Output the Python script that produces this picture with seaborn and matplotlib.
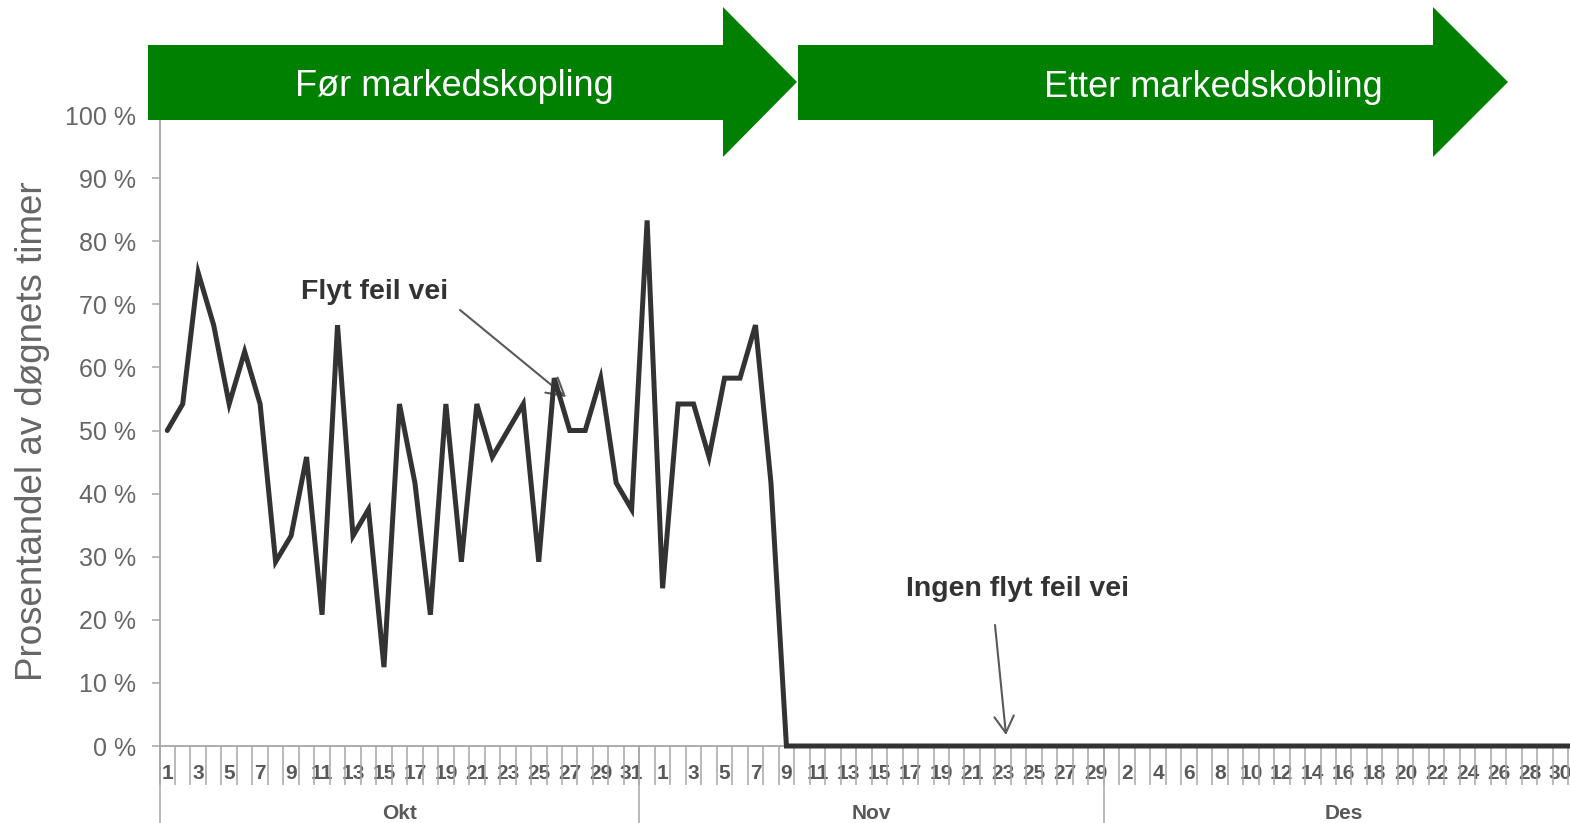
import matplotlib
matplotlib.use("Agg")
import matplotlib.pyplot as plt
from matplotlib.patches import Polygon
from matplotlib.ticker import FixedLocator, FuncFormatter
import matplotlib.transforms as mtransforms
import seaborn as sns
import pandas as pd

# ---------------- data ----------------
months = ["Okt", "Nov", "Des"]
oct_vals = [50, 54.2, 75, 66.7, 54.2, 62.5, 54.2, 29.2, 33.3, 45.8,
            20.8, 66.7, 33.3, 37.5, 12.5, 54.2, 41.7, 20.8, 54.2, 29.2,
            54.2, 45.8, 50, 54.2, 29.2, 58.3, 50, 50, 58.3, 41.7, 37.5]
nov_vals = [83.3, 25, 54.2, 54.2, 45.8, 58.3, 58.3, 66.7, 41.7, 0,
            0, 0, 0, 0, 0, 0, 0, 0, 0, 0,
            0, 0, 0, 0, 0, 0, 0, 0, 0, 0]
dec_vals = [0, 0, 0, 0, 0, 0, 0, 0, 0, 0,
            0, 0, 0, 0, 0, 0, 0, 0, 0, 0,
            0, 0, 0, 0, 0, 0, 0, 0, 0, 0, 0]
oct_labels = ["1", "", "3", "", "5", "", "7", "", "9", "", "11", "", "13", "", "15", "",
              "17", "", "19", "", "21", "", "23", "", "25", "", "27", "", "29", "", "31"]
nov_labels = ["", "1", "", "3", "", "5", "", "7", "", "9", "", "11", "", "13", "",
              "15", "", "17", "", "19", "", "21", "", "23", "", "25", "", "27", "", "29"]
dec_labels = ["", "2", "", "4", "", "6", "", "8", "", "10", "", "12", "", "14", "", "16",
              "", "18", "", "20", "", "22", "", "24", "", "26", "", "28", "", "30", ""]
y_ticks = [0, 10, 20, 30, 40, 50, 60, 70, 80, 90, 100]
y_title = "Prosentandel av døgnets timer"
phase_labels = ["Før markedskopling", "Etter markedskobling"]
note_wrong = "Flyt feil vei"
note_none = "Ingen flyt feil vei"

values = oct_vals + nov_vals + dec_vals
labels = oct_labels + nov_labels + dec_labels
slots = list(range(1, len(values) + 1))
df = pd.DataFrame({"slot": slots, "value": values})

# ---------------- style ----------------
sns.set_style("white")
plt.rcParams["font.family"] = ["Liberation Sans", "DejaVu Sans"]

W, H = 1570, 823
fig = plt.figure(figsize=(W / 100, H / 100), dpi=100)
slot_px = 15.48
ax_left, ax_bottom_px, ax_top_px = 159.5, 746, 115
n = len(values)
ax = fig.add_axes([ax_left / W, (H - ax_bottom_px) / H,
                   n * slot_px / W, (ax_bottom_px - ax_top_px) / H])

sns.lineplot(data=df, x="slot", y="value", ax=ax, color="#333333",
             linewidth=3.6, legend=False)
for ln in ax.lines:
    ln.set_clip_on(False)
    ln.set_solid_joinstyle("miter")
    ln.set_zorder(4)

ax.set_xlim(0.5, n + 0.5)
ax.set_ylim(0, 100)
ax.set_xlabel("")
ax.set_ylabel("")

gray = "#a6a6a6"
for s in ["top", "right"]:
    ax.spines[s].set_visible(False)
for s in ["left", "bottom"]:
    ax.spines[s].set_color(gray)
    ax.spines[s].set_linewidth(1.3)

# y axis
ax.yaxis.set_major_locator(FixedLocator(y_ticks))
ax.yaxis.set_major_formatter(FuncFormatter(lambda v, p: f"{int(v)} %"))
ax.tick_params(axis="y", which="major", direction="out", length=6, width=1.1,
               color=gray, labelsize=18, labelcolor="#666666", pad=11, left=True)

# x axis: labels at slot centers, tick marks at slot boundaries
ax.xaxis.set_major_locator(FixedLocator(slots))
ax.set_xticklabels(labels)
ax.xaxis.set_minor_locator(FixedLocator([s + 0.5 for s in [0] + slots]))
ax.tick_params(axis="x", which="major", length=0, labelsize=15,
               labelcolor="#595959", pad=13, bottom=True)
ax.tick_params(axis="x", which="minor", length=28, width=1.1, color=gray,
               direction="out", bottom=True)
for t in ax.get_xticklabels():
    t.set_fontweight("bold")

# month separators and labels
trans = mtransforms.blended_transform_factory(ax.transData, ax.transAxes)
month_lens = [len(oct_vals), len(nov_vals), len(dec_vals)]
start = 0.5
for name, ln_ in zip(months, month_lens):
    ax.plot([start, start], [0, -0.13], transform=trans, color=gray,
            linewidth=1.1, clip_on=False)
    ax.text(start + ln_ / 2, -0.107, name, transform=trans, ha="center",
            va="center", fontsize=15, fontweight="bold", color="#595959")
    start += ln_
ax.plot([start, start], [0, -0.13], transform=trans, color=gray,
        linewidth=1.1, clip_on=False)

# y title
fig.text(33 / W, 1 - 431 / H, y_title, rotation=90, ha="center", va="center",
         fontsize=26.5, color="#666666")

# annotations
def to_data(px, py):
    return ((px - ax_left) / slot_px + 0.5, (ax_bottom_px - py) / 6.31)

ax.text(*to_data(375, 292), note_wrong, ha="center", va="center",
        fontsize=20.5, fontweight="bold", color="#333333")
ax.annotate("", xy=to_data(566, 397), xytext=to_data(460, 310),
            arrowprops=dict(arrowstyle="->,head_length=0.6,head_width=0.35",
                            mutation_scale=20, color="#595959", lw=1.5,
                            shrinkA=0, shrinkB=0))
ax.text(*to_data(1017, 589), note_none, ha="center", va="center",
        fontsize=20.5, fontweight="bold", color="#333333")
ax.annotate("", xy=to_data(1006, 735), xytext=to_data(995, 625),
            arrowprops=dict(arrowstyle="->,head_length=0.6,head_width=0.35",
                            mutation_scale=20, color="#595959", lw=1.5,
                            shrinkA=0, shrinkB=0))

# green phase arrows (figure decoration)
green = "#008000"
def block_arrow(x0, x1, x2):
    pts = [(x0, 45), (x1, 45), (x1, 7), (x2, 82), (x1, 157), (x1, 120), (x0, 120)]
    return Polygon([(x / W, 1 - y / H) for x, y in pts], closed=True,
                   transform=fig.transFigure, facecolor=green, edgecolor="none",
                   zorder=5)

fig.patches.append(block_arrow(148, 723, 797))
fig.patches.append(block_arrow(798, 1433, 1508))
fig.text(454 / W, 1 - 96 / H, phase_labels[0], ha="center", va="baseline",
         fontsize=26, color="white", zorder=6)
fig.text(1213 / W, 1 - 97 / H, phase_labels[1], ha="center", va="baseline",
         fontsize=26, color="white", zorder=6)

fig.savefig("out.png", dpi=100)
